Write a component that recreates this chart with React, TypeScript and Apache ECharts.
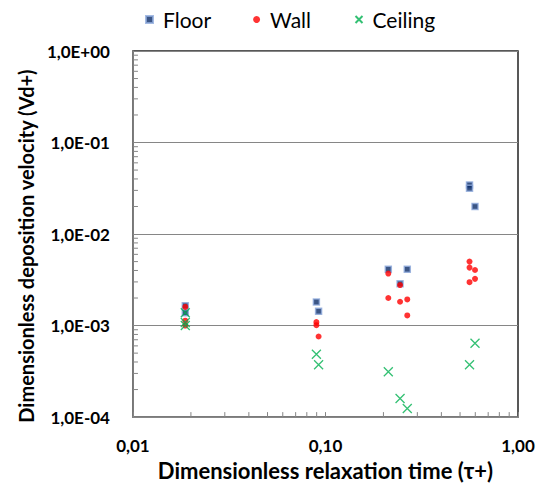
import React, { useEffect, useRef } from "react";
import * as echarts from "echarts";

const floorData: [number, number][] = [
  [0.0187, 0.00165], [0.0187, 0.00138],
  [0.0897, 0.00181], [0.0921, 0.00143],
  [0.212, 0.00412], [0.244, 0.00286], [0.266, 0.00412],
  [0.56, 0.0344], [0.56, 0.0317], [0.598, 0.02],
];
const wallData: [number, number][] = [
  [0.0187, 0.0016], [0.0187, 0.00113], [0.0187, 0.001],
  [0.0897, 0.00109], [0.0897, 0.00101], [0.0921, 0.00076],
  [0.212, 0.0037], [0.212, 0.002], [0.244, 0.00277], [0.244, 0.00182],
  [0.266, 0.00193], [0.266, 0.00129],
  [0.56, 0.005], [0.56, 0.0043], [0.598, 0.00405], [0.598, 0.00324], [0.56, 0.00298],
];
const ceilingData: [number, number][] = [
  [0.0187, 0.00138], [0.0187, 0.00108], [0.0187, 0.001],
  [0.0897, 0.000486], [0.0921, 0.000373],
  [0.212, 0.000313], [0.244, 0.00016], [0.266, 0.000124],
  [0.598, 0.00064], [0.56, 0.000373],
];
const xMinorTicks = [0.02, 0.03, 0.04, 0.05, 0.06, 0.07, 0.08, 0.09, 0.2, 0.3, 0.4, 0.5, 0.6, 0.7, 0.8, 0.9];
const yMinorTicks: number[] = [];
[0.0001, 0.001, 0.01, 0.1].forEach((d) => {
  [2, 3, 4, 5, 6, 7, 8, 9].forEach((m) => yMinorTicks.push(+(d * m).toPrecision(3)));
});

const FONT = "Lato, 'Open Sans', sans-serif";
const GREY = "#868686";

export default function App() {
  const ref = useRef<HTMLDivElement>(null);
  useEffect(() => {
    const chart = echarts.init(ref.current!, null, { renderer: "svg" });
    chart.setOption({
      animation: false,
      textStyle: { fontFamily: FONT },
      legend: {
        top: 1,
        left: 137,
        padding: 0,
        itemGap: 42,
        itemWidth: 7,
        itemHeight: 7,
        textStyle: { fontSize: 21, color: "#000", fontFamily: FONT, padding: [0, 0, 0, 5] },
        data: ["Floor", "Wall", "Ceiling"],
      },
      grid: {
        left: 116,
        right: 26,
        top: 43,
        bottom: 67,
        show: true,
        borderColor: "#222",
        borderWidth: 1.5,
      },
      xAxis: {
        type: "log",
        logBase: 10,
        min: 0.01,
        max: 1,
        name: "Dimensionless relaxation time (τ+)",
        nameLocation: "middle",
        nameGap: 38,
        nameTextStyle: { fontSize: 22, fontWeight: "bold", color: "#000", fontFamily: FONT },
        axisLine: { lineStyle: { color: GREY, width: 1.5 } },
        axisTick: { inside: true, length: 5, lineStyle: { color: GREY } },
        splitLine: { show: false },
        axisLabel: {
          fontSize: 17,
          fontWeight: "bold",
          color: "#000",
          margin: 20,
          formatter: (v: number) => v.toFixed(2).replace(".", ","),
        },
      },
      yAxis: {
        type: "log",
        logBase: 10,
        min: 0.0001,
        max: 1,
        name: "Dimensionless deposition velocity (Vd+)",
        nameLocation: "middle",
        nameGap: 82,
        nameTextStyle: {
          fontSize: 20,
          fontWeight: "bold",
          color: "#000",
          fontFamily: FONT,
          padding: [0, 24, 0, 0],
        },
        axisLine: { lineStyle: { color: GREY, width: 1.5 } },
        axisTick: { inside: true, length: 5, lineStyle: { color: GREY } },
        splitLine: { show: true, lineStyle: { color: GREY, width: 1.2 } },
        axisLabel: {
          fontSize: 17,
          fontWeight: "bold",
          color: "#000",
          margin: 23,
          formatter: (v: number) => {
            const e = Math.round(Math.log10(v));
            const s = e < 0 ? "-" : "+";
            return "1,0E" + s + String(Math.abs(e)).padStart(2, "0");
          },
        },
      },
      series: [
        {
          type: "custom",
          silent: true,
          data: xMinorTicks.map((v) => [v, 1]),
          renderItem: (params: any, api: any) => {
            const p = api.coord([api.value(0), 1]);
            const cs = params.coordSys;
            const y = cs.y + cs.height;
            return { type: "line", shape: { x1: p[0], y1: y, x2: p[0], y2: y - 5 }, style: { stroke: GREY, lineWidth: 1 } };
          },
          z: 1,
        },
        {
          type: "custom",
          silent: true,
          data: yMinorTicks.map((v) => [0.01, v]),
          renderItem: (params: any, api: any) => {
            const p = api.coord([0.01, api.value(1)]);
            const cs = params.coordSys;
            return { type: "line", shape: { x1: cs.x, y1: p[1], x2: cs.x + 5, y2: p[1] }, style: { stroke: GREY, lineWidth: 1 } };
          },
          z: 1,
        },
        {
          name: "Floor",
          type: "scatter",
          data: floorData,
          symbol: "rect",
          symbolSize: 6,
          itemStyle: { color: "#0A2A66", borderColor: "#8FAADC", borderWidth: 1.5 },
          z: 3,
        },
        {
          name: "Wall",
          type: "scatter",
          data: wallData,
          symbol: "circle",
          symbolSize: 6,
          itemStyle: { color: "#FF0000" },
          z: 4,
        },
        {
          name: "Ceiling",
          type: "scatter",
          data: ceilingData,
          symbol: "path://M0,0L10,10M10,0L0,10",
          symbolSize: 9,
          itemStyle: { color: "none", borderColor: "#00B050", borderWidth: 1.3 },
          z: 5,
        },
      ],
    });
    return () => chart.dispose();
  }, []);
  return <div ref={ref} style={{ width: 536, height: 478 }} />;
}
